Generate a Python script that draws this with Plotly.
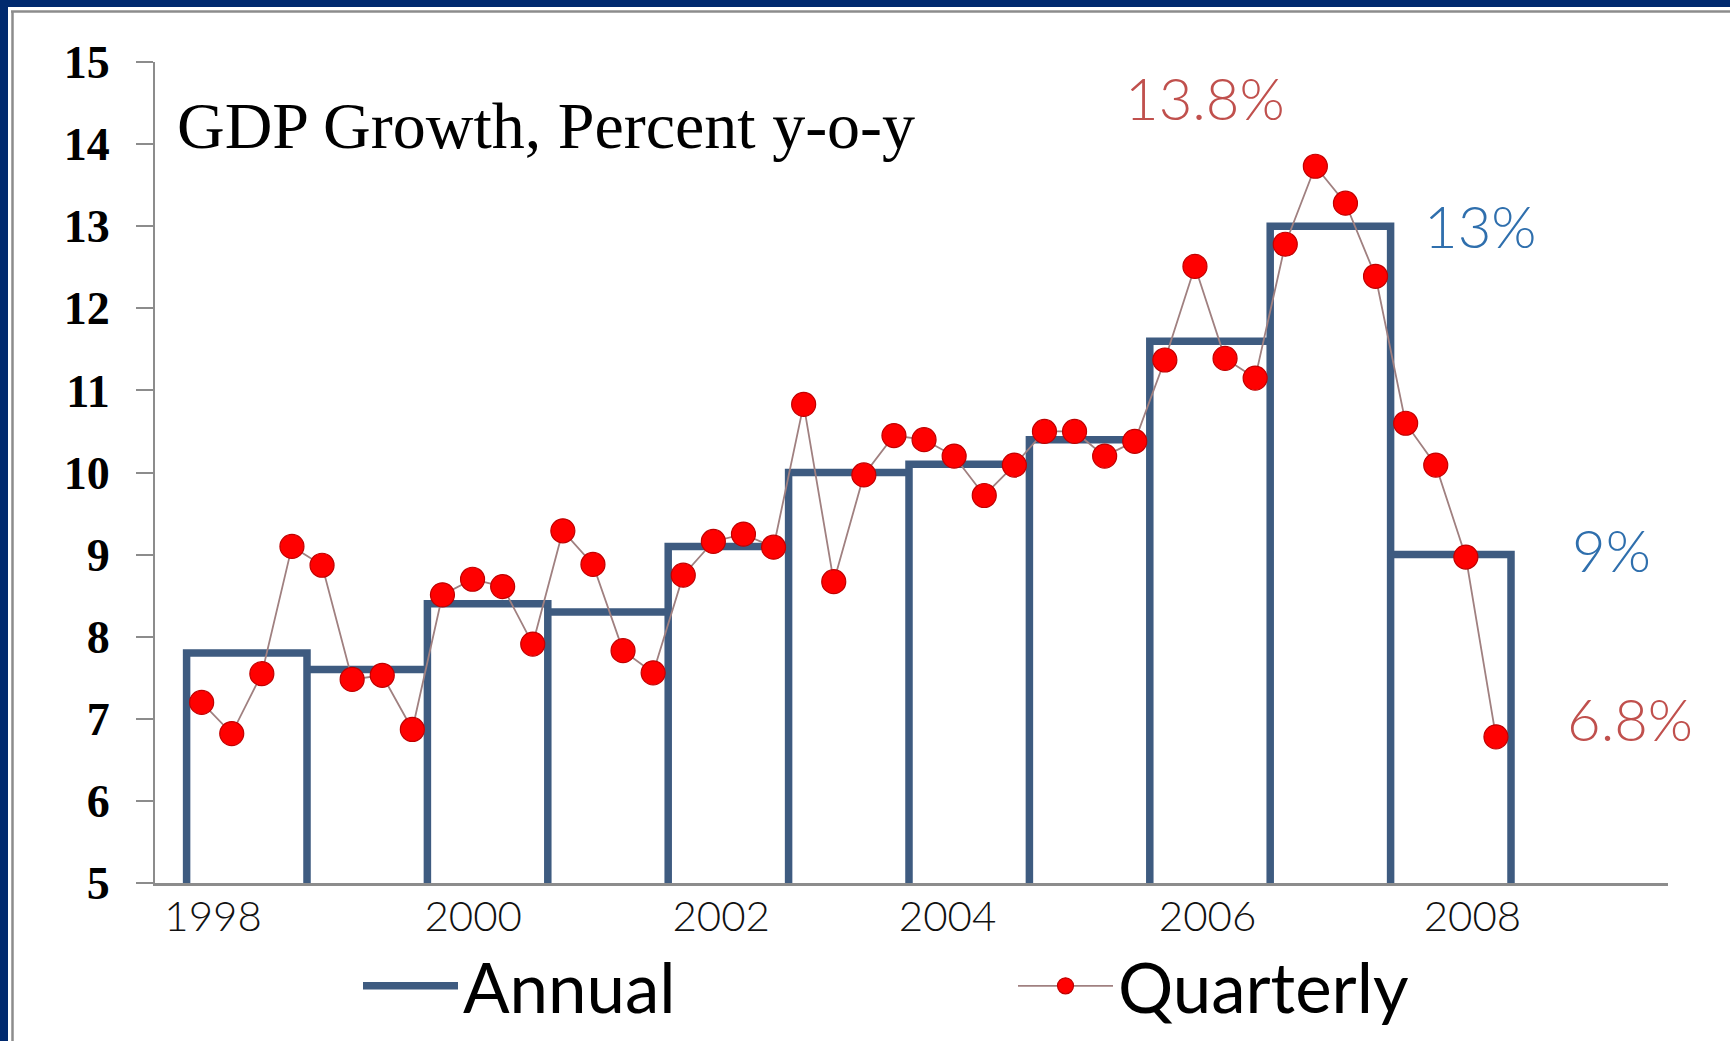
import plotly.graph_objects as go

# ---------------- data ----------------
years = [1998, 1999, 2000, 2001, 2002, 2003, 2004, 2005, 2006, 2007, 2008]
annual = [7.8, 7.6, 8.4, 8.3, 9.1, 10.0, 10.1, 10.4, 11.6, 13.0, 9.0]
quarterly = [
    7.20, 6.82, 7.55, 9.10,
    8.87, 7.48, 7.53, 6.87,
    8.51, 8.70, 8.61, 7.91,
    9.29, 8.88, 7.83, 7.56,
    8.75, 9.16, 9.25, 9.09,
    10.83, 8.67, 9.97, 10.45,
    10.40, 10.20, 9.72, 10.09,
    10.50, 10.50, 10.20, 10.38,
    11.37, 12.51, 11.39, 11.15,
    12.78, 13.73, 13.28, 12.39,
    10.60, 10.09, 8.97, 6.78,
]
tick_labels = ["1998", "2000", "2002", "2004", "2006", "2008"]
tick_positions = [1998.22, 2000.38, 2002.44, 2004.32, 2006.48, 2008.68]
y_ticks = list(range(5, 16))

# ---------------- layout geometry ----------------
W, H = 1730, 1041
ML, MR, MT, MB = 155, 62, 62, 158
PW, PH = W - ML - MR, H - MT - MB
Y_MIN, Y_MAX = 5, 15
X_MIN, X_MAX = 1997.7375, 2010.304


def px(x):
    return (x - ML) / PW


def py(y):
    return (H - MB - y) / PH


# annual outline path: each year drawn as an open box from the axis up to its value
ax_x, ax_y = [], []
for yr, v in zip(years, annual):
    ax_x += [yr, yr, yr + 1, yr + 1]
    ax_y += [Y_MIN, v, v, Y_MIN]

# quarterly x positions: mid-quarter
q_x = [years[0] + (i + 0.5) / 4 for i in range(len(quarterly))]

fig = go.Figure()
fig.add_trace(go.Scatter(
    x=ax_x, y=ax_y, mode="lines", name="Annual",
    line=dict(color="#3E5B80", width=7.5),
    cliponaxis=True,
))
fig.add_trace(go.Scatter(
    x=q_x, y=quarterly, mode="lines+markers", name="Quarterly",
    line=dict(color="#A08080", width=1.8),
    marker=dict(color="#FF0000", size=24, line=dict(color="#C00000", width=1.2)),
))

annots = [
    dict(text="GDP Growth, Percent y-o-y", x=px(175), y=py(125), xanchor="left", yanchor="middle",
         font=dict(family="Liberation Serif", size=66, color="#000000")),
    dict(text="13.8%", x=px(1205), y=py(98), xanchor="center", yanchor="middle",
         font=dict(family="Lato", size=58, color="#C0504D", weight=300)),
    dict(text="13%", x=px(1480), y=py(225), xanchor="center", yanchor="middle",
         font=dict(family="Lato", size=58, color="#2F6FAD", weight=300)),
    dict(text="9%", x=px(1611), y=py(549), xanchor="center", yanchor="middle",
         font=dict(family="Lato", size=58, color="#2F6FAD", weight=300)),
    dict(text="6.8%", x=px(1630), y=py(718), xanchor="center", yanchor="middle",
         font=dict(family="Lato", size=58, color="#C0504D", weight=300)),
]
for a in annots:
    a.update(xref="paper", yref="paper", showarrow=False)

NAVY = "#00296E"
GRAY = "#8C8C8C"
shapes = [
    dict(type="rect", x0=px(0), x1=px(W), y0=py(0), y1=py(7), fillcolor=NAVY, line_width=0),
    dict(type="rect", x0=px(0), x1=px(8), y0=py(0), y1=py(H), fillcolor=NAVY, line_width=0),
    dict(type="line", x0=px(11), x1=px(W), y0=py(11.5), y1=py(11.5), line=dict(color=GRAY, width=2.5)),
    dict(type="line", x0=px(12.5), x1=px(12.5), y0=py(11), y1=py(H), line=dict(color=GRAY, width=2.5)),
]
for s in shapes:
    s.update(xref="paper", yref="paper")

fig.update_layout(
    width=W, height=H,
    margin=dict(l=ML, r=MR, t=MT, b=MB, autoexpand=False),
    paper_bgcolor="white", plot_bgcolor="white",
    showlegend=True,
    legend=dict(
        orientation="h", x=px(358), y=py(986), xanchor="left", yanchor="middle",
        font=dict(family="Lato", size=69, color="#000000"),
        itemwidth=95, entrywidth=545, bgcolor="rgba(0,0,0,0)",
    ),
    annotations=annots,
    shapes=shapes,
    xaxis=dict(
        range=[X_MIN, X_MAX], showgrid=False, zeroline=False,
        showline=True, linecolor=GRAY, linewidth=2.5,
        ticks="", tickvals=tick_positions, ticktext=tick_labels,
        tickfont=dict(family="Lato", size=42, color="#111111", weight=300),
        ticklabelstandoff=-5,
    ),
    yaxis=dict(
        range=[Y_MIN, Y_MAX], showgrid=False, zeroline=False,
        showline=True, linecolor=GRAY, linewidth=2,
        ticks="outside", ticklen=17, tickwidth=2, tickcolor=GRAY,
        tickvals=y_ticks,
        tickfont=dict(family="Liberation Serif", size=46, color="#000000", weight="bold"),
        ticklabelstandoff=17,
    ),
)

fig.write_html("out.html")
